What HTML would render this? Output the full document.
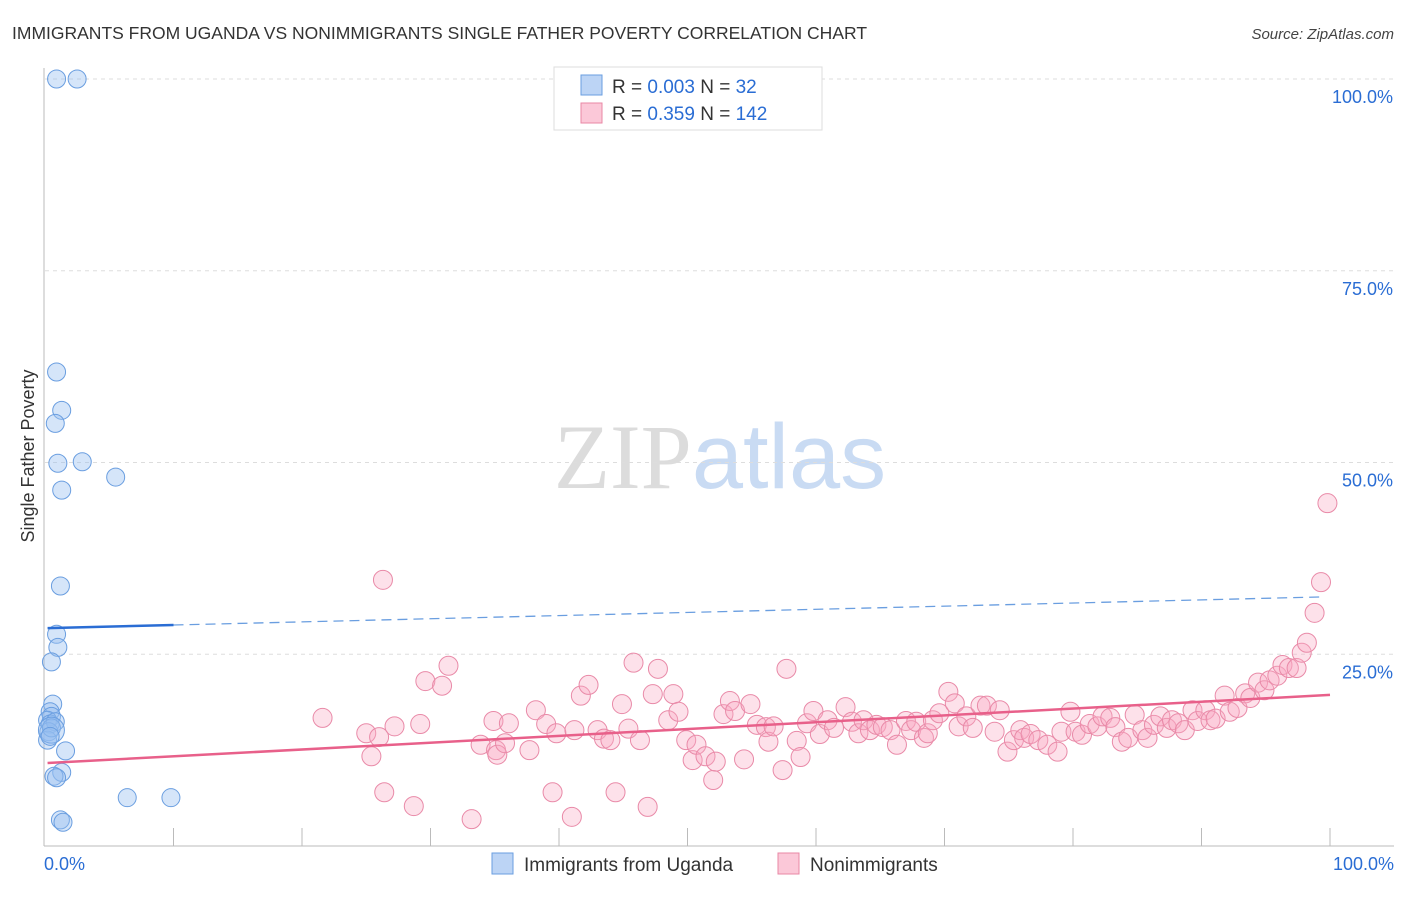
<!DOCTYPE html>
<html><head><meta charset="utf-8">
<style>
body{margin:0;background:#fff;font-family:"Liberation Sans",sans-serif;}
svg text{font-family:"Liberation Sans",sans-serif;}
</style></head>
<body>
<svg id="chart" width="1406" height="892" viewBox="0 0 1406 892" xmlns="http://www.w3.org/2000/svg">
<text x="12" y="39" font-size="17.5" fill="#333">IMMIGRANTS FROM UGANDA VS NONIMMIGRANTS SINGLE FATHER POVERTY CORRELATION CHART</text>
<text x="1394" y="39" font-size="15" fill="#444" text-anchor="end" font-style="italic">Source: ZipAtlas.com</text>
<text x="720" y="488" font-size="92" text-anchor="middle"><tspan fill="#dcdcdc" font-family="Liberation Serif">ZIP</tspan><tspan fill="#c9dbf3">atlas</tspan></text>
<text transform="translate(34,456) rotate(-90)" font-size="18" fill="#333" text-anchor="middle">Single Father Poverty</text>
<g id="grid"></g>
<g id="axes"></g>
<g id="pts"></g>
<g id="trends"></g>
<g>
<rect x="554" y="67" width="268" height="63" fill="#fff" stroke="#ddd"/>
<rect x="581" y="75" width="21" height="20" fill="#bcd4f5" stroke="#6a9ee0"/>
<rect x="581" y="103" width="21" height="20" fill="#fbc8d8" stroke="#e887a5"/>
<text x="612" y="93" font-size="19" fill="#333">R = <tspan fill="#2a6dd4">0.003</tspan>   N =  <tspan fill="#2a6dd4"> 32</tspan></text>
<text x="612" y="120" font-size="19" fill="#333">R =  <tspan fill="#2a6dd4">0.359</tspan>   N = <tspan fill="#2a6dd4">142</tspan></text>
</g>
<g>
<rect x="492" y="853" width="21" height="21" fill="#bcd4f5" stroke="#6a9ee0"/>
<text x="524" y="871" font-size="19" fill="#333">Immigrants from Uganda</text>
<rect x="778" y="853" width="21" height="21" fill="#fbc8d8" stroke="#e887a5"/>
<text x="810" y="871" font-size="19" fill="#333">Nonimmigrants</text>
</g>
</svg>
<script>
const yTicks=[25,50,75,100];
const yTickLabels=["25.0%","50.0%","75.0%","100.0%"];
const xTicks=[10,20,30,40,50,60,70,80,90,100];
const xEndLabels=["0.0%","100.0%"];
const blueX=[0.9,2.5,0.9,1.3,0.8,1.0,2.9,1.3,5.5,1.2,0.9,1.0,0.5,0.6,0.4,0.5,0.2,0.4,0.8,0.3,0.2,0.5,1.6,1.3,0.7,0.9,6.4,9.8,1.2,1.4,0.5,0.4];
const blueY=[100,100,61.8,56.8,55.1,49.9,50.1,46.4,48.1,33.9,27.6,25.9,24.0,18.5,17.5,16.9,16.4,15.9,16.2,14.9,13.8,15.4,12.4,9.6,9.1,8.9,6.3,6.3,3.4,3.1,15.1,14.3];
const pinkX=[21.6,25.0,25.4,26.0,27.2,29.2,26.3,29.6,30.9,31.4,26.4,28.7,33.2,33.9,34.9,35.1,35.2,35.8,36.1,37.7,38.2,39.0,39.5,39.8,41.0,41.2,41.7,42.3,43.0,43.5,44.0,44.4,44.9,45.4,45.8,46.3,46.9,47.3,47.7,48.5,48.9,49.3,49.9,50.4,50.7,51.4,52.0,52.2,52.8,53.3,53.7,54.4,54.9,55.4,56.1,56.3,56.7,57.4,57.7,58.5,58.8,59.3,59.8,60.3,60.9,61.4,62.3,62.8,63.3,63.7,64.2,64.7,65.2,65.8,66.3,67.0,67.4,67.8,68.4,68.7,69.1,69.6,70.3,70.8,71.1,71.7,72.2,72.8,73.3,73.9,74.3,74.9,75.4,75.9,76.2,76.7,77.3,78.0,78.8,79.1,79.8,80.2,80.7,81.3,81.9,82.3,82.9,83.3,83.8,84.3,84.8,85.4,85.8,86.3,86.8,87.3,87.7,88.2,88.7,89.3,89.7,90.3,90.7,91.1,91.8,92.2,92.8,93.4,93.8,94.4,94.9,95.3,95.9,96.3,96.8,97.4,97.8,98.2,98.8,99.3,99.8];
const pinkY=[16.7,14.7,11.7,14.2,15.6,15.9,34.7,21.5,20.9,23.5,7.0,5.2,3.5,13.2,16.3,12.5,11.9,13.4,16.0,12.5,17.7,15.9,7.0,14.7,3.8,15.1,19.6,21.0,15.1,14.0,13.8,7.0,18.5,15.3,23.9,13.8,5.1,19.8,23.1,16.4,19.8,17.5,13.8,11.2,13.2,11.7,8.6,11.0,17.2,18.9,17.6,11.3,18.5,15.8,15.5,13.6,15.6,9.9,23.1,13.7,11.6,16.0,17.6,14.6,16.4,15.4,18.1,16.2,14.7,16.4,15.1,15.8,15.5,15.1,13.2,16.3,15.1,16.2,14.1,14.7,16.4,17.3,20.1,18.6,15.6,16.9,15.4,18.3,18.3,14.9,17.7,12.3,13.8,15.1,14.1,14.6,13.8,13.2,12.3,14.9,17.5,14.9,14.5,15.9,15.6,16.9,16.7,15.5,13.6,14.1,17.1,15.1,14.1,15.8,16.9,15.4,16.4,16.0,15.1,17.7,16.3,17.7,16.4,16.6,19.6,17.5,18.0,19.9,19.3,21.3,20.3,21.6,22.2,23.6,23.2,23.2,25.2,26.5,30.4,34.4,44.7];
const blueTrend=[28.4,32.5];
const pinkTrend=[10.8,19.7];
const NS="http://www.w3.org/2000/svg";
const X=v=>45+v*12.85, Y=v=>846-v*7.67;
function mk(tag,attrs,parent){const e=document.createElementNS(NS,tag);for(const k in attrs)e.setAttribute(k,attrs[k]);document.getElementById(parent).appendChild(e);return e;}
yTicks.forEach((t,i)=>{
 const l=mk('line',{x1:45,x2:1394,y1:Y(t),y2:Y(t),stroke:'#ddd','stroke-dasharray':'4,4'},'grid');
 
 
 const tx=mk('text',{x:1393,y:Y(t)+24,'font-size':18,fill:'#2a6dd4','text-anchor':'end'},'grid');
 tx.textContent=yTickLabels[i];
 
 
});
const ax=mk('line',{x1:44,x2:44,y1:68,y2:846,stroke:'#bbb'},'axes');


const bx=mk('line',{x1:44,x2:1394,y1:846,y2:846,stroke:'#bbb'},'axes');


xTicks.forEach(t=>{
 const l=mk('line',{x1:X(t),x2:X(t),y1:828,y2:846,stroke:'#bbb'},'axes');
 
 
});
[[0,'start',44],[100,'end',1394]].forEach((d,i)=>{
 const t=mk('text',{x:d[2],y:870,'font-size':18,fill:'#2a6dd4','text-anchor':d[1]},'axes');
 t.textContent=xEndLabels[i];
 
 
});
pinkX.forEach((x,i)=>{
 const c=mk('circle',{cx:X(x),cy:Y(pinkY[i]),r:9.5,fill:'rgba(248,170,195,0.35)',stroke:'#e98aa8','stroke-width':1},'pts');
 
 
});
blueX.forEach((x,i)=>{
 const c=mk('circle',{cx:X(x),cy:Y(blueY[i]),r:i==30?13:9,fill:'rgba(150,190,240,0.4)',stroke:'#6a9ee0','stroke-width':1},'pts');
 
 
});
const bt=v=>blueTrend[0]+(blueTrend[1]-blueTrend[0])*v/100;
const b1=mk('line',{x1:X(0.2),y1:Y(bt(0.2)),x2:X(10),y2:Y(bt(10)),stroke:'#2a6dd4','stroke-width':2.5},'trends');


const b2=mk('line',{x1:X(10),y1:Y(bt(10)),x2:X(99.6),y2:Y(bt(99.6)),stroke:'#6a9ee0','stroke-width':1.3,'stroke-dasharray':'10,6'},'trends');


const pt=v=>pinkTrend[0]+(pinkTrend[1]-pinkTrend[0])*v/100;
const p1=mk('line',{x1:X(0.2),y1:Y(pt(0.2)),x2:X(100),y2:Y(pt(100)),stroke:'#e8608a','stroke-width':2.5},'trends');


</script>
</body></html>
